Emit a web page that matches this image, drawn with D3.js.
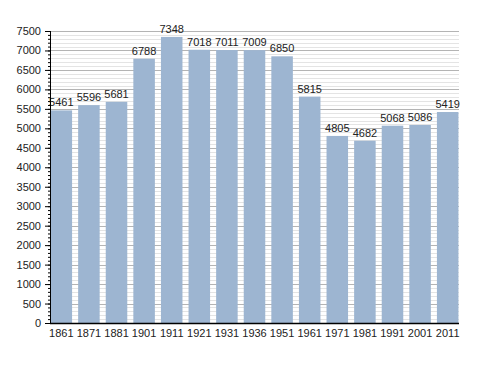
<!DOCTYPE html>
<html>
<head>
<meta charset="utf-8">
<script src="https://cdn.jsdelivr.net/npm/d3@7"></script>
<style>
  body { margin: 0; background: #fff; }
  text { font-family: "Liberation Sans", Arial, sans-serif; }
</style>
</head>
<body>
<svg id="chart"></svg>
<script>
// Data
const years = ["1861", "1871", "1881", "1901", "1911", "1921", "1931", "1936", "1951", "1961", "1971", "1981", "1991", "2001", "2011"];
const population = [5461, 5596, 5681, 6788, 7348, 7018, 7011, 7009, 6850, 5815, 4805, 4682, 5068, 5086, 5419];
const majorTicks = d3.range(0, 7501, 500);
const minorTicks = d3.range(0, 7501, 100);

const width = 488, height = 373;
const margin = {top: 31, right: 29, bottom: 50, left: 50};

const svg = d3.select("#chart")
    .attr("width", width)
    .attr("height", height);

const x = d3.scaleBand()
    .domain(years)
    .range([margin.left, width - margin.right])
    .paddingInner(0.22)
    .paddingOuter(0.02);

const y = d3.scaleLinear()
    .domain([0, 7500])
    .range([height - margin.bottom, margin.top]);

// minor grid lines
svg.append("g")
    .selectAll("line")
    .data(minorTicks.filter(d => d % 500 !== 0))
    .enter().append("line")
    .attr("x1", margin.left)
    .attr("x2", width - margin.right)
    .attr("y1", d => Math.round(y(d)) + 0.5)
    .attr("y2", d => Math.round(y(d)) + 0.5)
    .attr("stroke", "#e4e4e4")
    .attr("stroke-width", 1);

// major grid lines
svg.append("g")
    .selectAll("line")
    .data(majorTicks.filter(d => d > 0))
    .enter().append("line")
    .attr("x1", margin.left)
    .attr("x2", width - margin.right)
    .attr("y1", d => Math.round(y(d)) + 0.5)
    .attr("y2", d => Math.round(y(d)) + 0.5)
    .attr("stroke", "#b4b4b4")
    .attr("stroke-width", 1);

// bars
svg.selectAll(".bar")
    .data(population)
    .enter().append("rect")
    .attr("class", "bar")
    .attr("x", (d, i) => x(years[i]))
    .attr("y", d => y(d))
    .attr("width", x.bandwidth())
    .attr("height", d => y(0) - y(d))
    .attr("fill", "#9db5d1");

// value labels
svg.selectAll(".label")
    .data(population)
    .enter().append("text")
    .attr("class", "label")
    .attr("x", (d, i) => x(years[i]) + x.bandwidth() / 2)
    .attr("y", d => y(d) - 4)
    .attr("text-anchor", "middle")
    .attr("font-size", "11px")
    .attr("fill", "#222")
    .text(d => d);

// y axis with minor ticks
const yAxis = svg.append("g")
    .attr("transform", `translate(${margin.left},0)`);
yAxis.call(d3.axisLeft(y).tickValues(minorTicks).tickSize(2).tickFormat(""))
    .call(g => g.select(".domain").remove());
yAxis.append("g")
    .call(d3.axisLeft(y).tickValues(majorTicks).tickSize(5).tickPadding(4).tickFormat(d3.format("d")))
    .call(g => g.selectAll("text").attr("font-size", "11px").attr("fill", "#222").attr("font-family", "Liberation Sans, Arial, sans-serif"))
    .call(g => g.select(".domain").attr("d", `M0.5,${margin.top}V${height - margin.bottom}`));

// x axis
svg.append("g")
    .attr("transform", `translate(0,${height - margin.bottom})`)
    .call(d3.axisBottom(x).tickSize(0).tickPadding(6))
    .call(g => g.selectAll("text").attr("font-size", "11px").attr("fill", "#222").attr("font-family", "Liberation Sans, Arial, sans-serif"))
    .call(g => g.select(".domain").attr("d", `M${margin.left},0.5H${width - margin.right}`).attr("stroke-width", 1.5));
</script>
</body>
</html>
